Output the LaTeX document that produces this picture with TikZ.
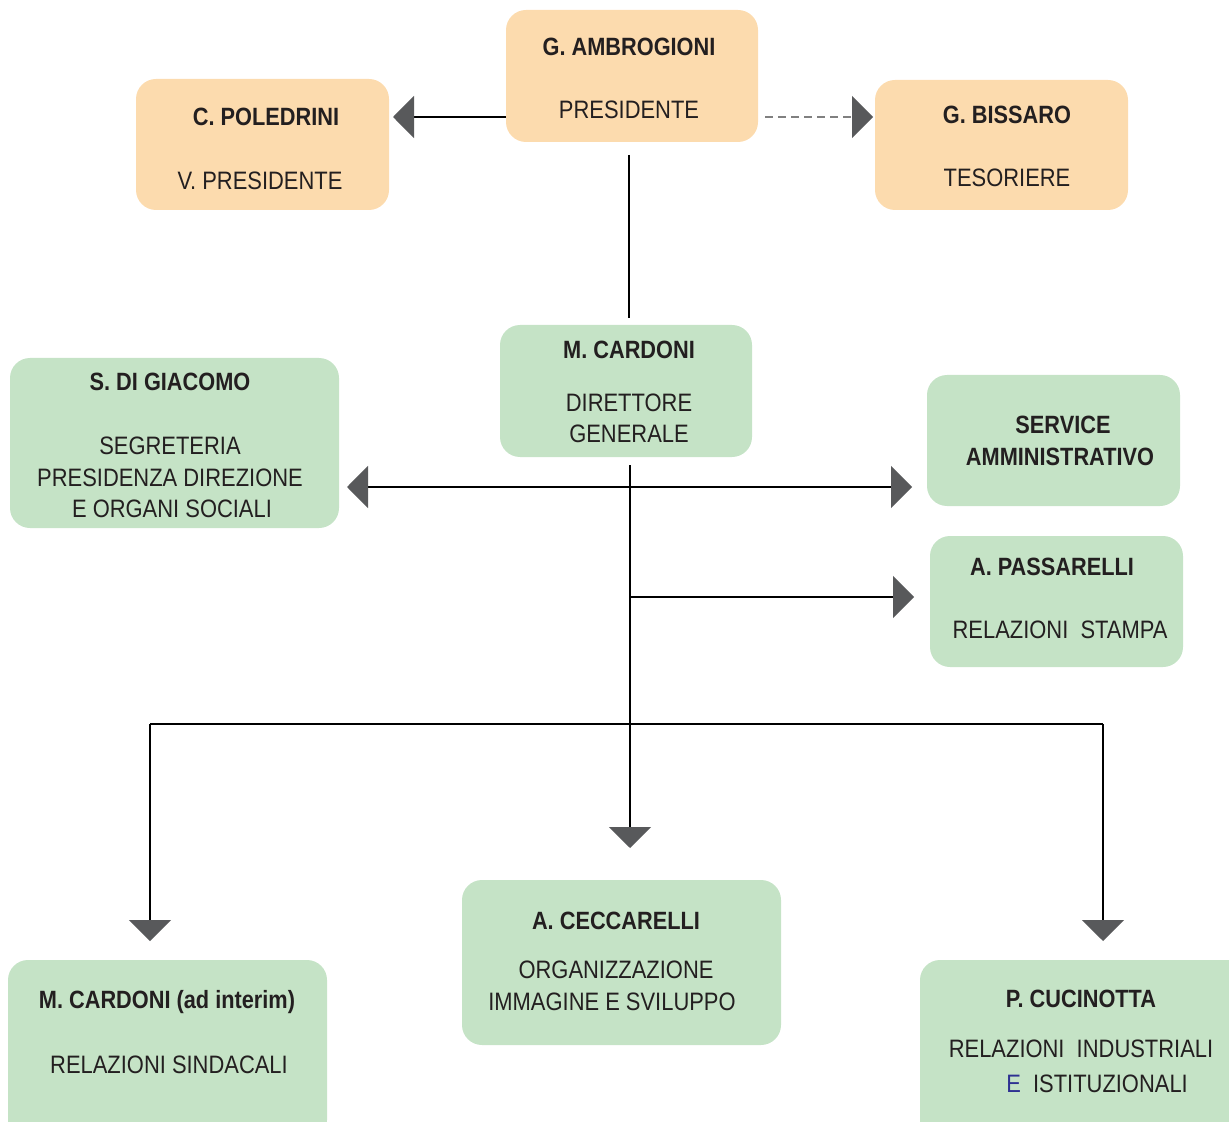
\documentclass[tikz,border=0pt]{standalone}
\usepackage{fontspec}
\setmainfont{Liberation Sans}[FakeStretch=0.87]
\usetikzlibrary{arrows.meta}
\definecolor{orfill}{HTML}{FCDBAE}
\definecolor{grfill}{HTML}{C5E3C6}
\definecolor{tipgray}{HTML}{58595B}
\definecolor{txt}{HTML}{231F20}
\definecolor{eblue}{HTML}{2E3192}
\begin{document}
\begin{tikzpicture}[x=0.5pt,y=-0.5pt,
  box/.style={rectangle, rounded corners=10pt, inner sep=0pt, draw=none},
  obox/.style={box, fill=orfill},
  gbox/.style={box, fill=grfill},
  ttl/.style={font=\bfseries\fontsize{12.5}{15}\selectfont, text=txt, anchor=base, inner sep=0pt},
  subtxt/.style={font=\fontsize{12.6}{15}\selectfont, text=txt, anchor=base, inner sep=0pt},
  conn/.style={line width=0.6pt, draw=black},
  tipend/.style={-{Triangle[length=10.5pt,width=21pt,color=tipgray]}},
  tipboth/.style={{Triangle[length=10.5pt,width=21pt,color=tipgray]}-{Triangle[length=10.5pt,width=21pt,color=tipgray]}},
]
\useasboundingbox (0,0) rectangle (1229,1122);
\clip (0,0) rectangle (1229,1122);

% boxes
\node[obox, minimum width=126pt, minimum height=66pt] (amb) at (632,76) {};
\node[obox, minimum width=126.5pt, minimum height=65.5pt] (pol) at (262.5,144.5) {};
\node[obox, minimum width=126.5pt, minimum height=65pt] (bis) at (1001.5,145) {};
\node[gbox, minimum width=126pt, minimum height=66pt] (dg) at (626,391) {};
\node[gbox, minimum width=164.5pt, minimum height=85pt] (sdg) at (174.5,443) {};
\node[gbox, minimum width=126.5pt, minimum height=65.5pt] (sam) at (1053.5,440.5) {};
\node[gbox, minimum width=126.5pt, minimum height=65.5pt] (pas) at (1056.5,601.5) {};
\node[gbox, minimum width=159.5pt, minimum height=82.5pt] (cec) at (621.5,962.5) {};
\node[gbox, minimum width=159.5pt, minimum height=90pt] (mci) at (167.5,1050) {};
\node[gbox, minimum width=165pt, minimum height=90pt] (cuc) at (1085,1050) {};

% texts
\node[ttl] (ambt) at (629,56) {G. AMBROGIONI};
\node[subtxt] (ambs) at (629,119) {PRESIDENTE};
\node[ttl] (polt) at (266,126) {C. POLEDRINI};
\node[subtxt] (pols) at (260,190) {V. PRESIDENTE};
\node[ttl] (bist) at (1007,124) {G. BISSARO};
\node[subtxt] (biss) at (1007,187) {TESORIERE};
\node[ttl] (dgt) at (629,359) {M. CARDONI};
\node[subtxt] (dgs1) at (629,411) {DIRETTORE};
\node[subtxt] (dgs2) at (629,442) {GENERALE};
\node[ttl] (sdgt) at (170,391) {S. DI GIACOMO};
\node[subtxt] (sdgs1) at (170,454) {SEGRETERIA};
\node[subtxt] (sdgs2) at (170,486) {PRESIDENZA DIREZIONE};
\node[subtxt] (sdgs3) at (172,517) {E ORGANI SOCIALI};
\node[ttl] (samt1) at (1063,433) {SERVICE};
\node[ttl] (samt2) at (1060,465) {AMMINISTRATIVO};
\node[ttl] (past) at (1052,575) {A. PASSARELLI};
\node[subtxt] (pass) at (1060,638) {RELAZIONI\ \ STAMPA};
\node[ttl] (cect) at (616,929) {A. CECCARELLI};
\node[subtxt] (cecs1) at (616,978) {ORGANIZZAZIONE};
\node[subtxt] (cecs2) at (612,1010) {IMMAGINE E SVILUPPO};
\node[ttl] (mcit) at (167,1008) {M. CARDONI (ad interim)};
\node[subtxt] (mcis) at (169,1073) {RELAZIONI SINDACALI};
\node[ttl] (cuct) at (1081,1007) {P. CUCINOTTA};
\node[subtxt] (cucs1) at (1081,1057) {RELAZIONI\ \ INDUSTRIALI};
\node[subtxt] (cucs2) at (1097,1092) {\textcolor{eblue}{E}\ \ ISTITUZIONALI};

% junction coordinates
\coordinate (dgbot) at (630,465);
\coordinate (hl) at (347,487);
\coordinate (hr) at (912,487);
\coordinate (jr) at (630,597);
\coordinate (pr) at (914,597);
\coordinate (jm) at (630,724);
\coordinate (jl) at (150,724);
\coordinate (jrr) at (1103,724);
\coordinate (cectip) at (630,848);
\coordinate (mcitip) at (150,941);
\coordinate (cuctip) at (1103,941);
\coordinate (ambdash) at (765,117);
\coordinate (bistip) at (873,117);
\coordinate (poltip) at (393,117);
\coordinate (ambw) at (506,117);
\coordinate (vt) at (629,155);
\coordinate (vb) at (629,318);

% connectors
\draw[conn, tipend] (ambw) -- (poltip);
\draw[conn, tipend, dash pattern=on 4pt off 2.5pt, draw=gray] (ambdash) -- (bistip);
\draw[conn] (vt) -- (vb);
\draw[conn, tipend] (dgbot) -- (cectip);
\draw[conn, tipboth] (hl) -- (hr);
\draw[conn, tipend] (jr) -- (pr);
\draw[conn] (jl) -- (jrr);
\draw[conn, tipend] (jl) -- (mcitip);
\draw[conn, tipend] (jrr) -- (cuctip);
\end{tikzpicture}
\end{document}
